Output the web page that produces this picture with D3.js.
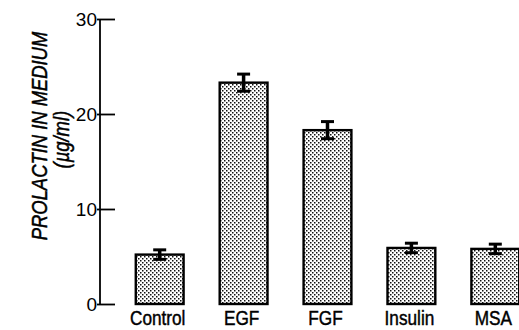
<!DOCTYPE html>
<meta charset="utf-8">
<title>Prolactin in medium</title>
<style>
  body { margin: 0; background: #fff; }
  text { font-family: "Liberation Sans", Arial, sans-serif; fill: #000; }
  .heavy { stroke: #000; stroke-width: 0.45px; }
</style>
<body>
<script src="https://d3js.org/d3.v7.min.js"></script>
<script>

// values
var categories = ["Control", "EGF", "FGF", "Insulin", "MSA"];
var means = [5.2, 23.3, 18.3, 5.9, 5.8];
var errors = [0.5, 0.9, 0.9, 0.5, 0.5];
var yTicks = [0, 10, 20, 30];

var width = 519,
    height = 330;

var svg = d3.select("body").append("svg")
  .attr("width", width)
  .attr("height", height);

// stipple fill for the bars
var pat = svg.append("defs").append("pattern")
  .attr("id", "dots")
  .attr("patternUnits", "userSpaceOnUse")
  .attr("width", 4)
  .attr("height", 4);
pat.append("rect").attr("width", 4).attr("height", 4).attr("fill", "#fff");
pat.append("rect").attr("x", 0).attr("y", 0).attr("width", 1.5).attr("height", 1.5).attr("fill", "#111");
pat.append("rect").attr("x", 2).attr("y", 2).attr("width", 1.5).attr("height", 1.5).attr("fill", "#111");

var y = d3.scaleLinear()
  .domain([0, 30])
  .range([304, 19]);

var x = d3.scaleBand()
  .domain(categories)
  .range([119, 536])
  .paddingInner(0.43)
  .paddingOuter(0.2);

// y axis: line plus ticks pointing into the plot
var yAxis = d3.axisRight(y)
  .tickValues(yTicks)
  .tickSize(15)
  .tickFormat("");

var gy = svg.append("g")
  .attr("transform", "translate(100,0)")
  .call(yAxis);
gy.select(".domain")
  .attr("d", "M0," + y(30) + "V" + y(0))
  .attr("stroke-width", 1.8);
gy.selectAll(".tick line").attr("stroke-width", 1.8).attr("x1", -3);

svg.selectAll(".ylab")
  .data(yTicks)
  .enter().append("text")
  .attr("class", "ylab")
  .attr("x", 97)
  .attr("y", d => y(d))
  .attr("dy", "0.36em")
  .attr("text-anchor", "end")
  .style("font-size", "19px")
  .text(d => d);

// y axis title
var title = svg.append("text")
  .attr("class", "heavy")
  .attr("transform", "translate(47,136) rotate(-90) scale(0.92,1.1)")
  .attr("text-anchor", "middle")
  .style("font-size", "20px")
  .style("font-style", "italic");
title.append("tspan").attr("x", 0).attr("y", 0).text("PROLACTIN IN MEDIUM");
title.append("tspan").attr("x", -4).attr("y", 20).text("(\u00b5g/ml)");

// bars
svg.selectAll(".bar")
  .data(categories)
  .enter().append("rect")
  .attr("class", "bar")
  .attr("x", d => x(d))
  .attr("width", x.bandwidth())
  .attr("y", (d, i) => y(means[i]))
  .attr("height", (d, i) => y(0) - y(means[i]))
  .attr("fill", "url(#dots)")
  .attr("stroke", "#000")
  .attr("stroke-width", 2.4);

// error bars
var eb = svg.selectAll(".err")
  .data(categories)
  .enter().append("g")
  .attr("class", "err")
  .attr("transform", d => "translate(" + (x(d) + x.bandwidth() / 2) + ",0)");

eb.append("line")
  .attr("y1", (d, i) => y(means[i] + errors[i]))
  .attr("y2", (d, i) => y(means[i] - errors[i]))
  .attr("stroke", "#000")
  .attr("stroke-width", 3.5);
eb.append("line")
  .attr("x1", -6.5).attr("x2", 6.5)
  .attr("y1", (d, i) => y(means[i] + errors[i]))
  .attr("y2", (d, i) => y(means[i] + errors[i]))
  .attr("stroke", "#000")
  .attr("stroke-width", 3);
eb.append("line")
  .attr("x1", -6.5).attr("x2", 6.5)
  .attr("y1", (d, i) => y(means[i] - errors[i]))
  .attr("y2", (d, i) => y(means[i] - errors[i]))
  .attr("stroke", "#000")
  .attr("stroke-width", 3);

// category labels, tall and condensed like the original lettering
svg.selectAll(".xlab")
  .data(categories)
  .enter().append("text")
  .attr("class", "xlab heavy")
  .attr("transform", d => "translate(" + (x(d) + x.bandwidth() / 2 - 2) + ",325) scale(0.82,1)")
  .attr("text-anchor", "middle")
  .style("font-size", "21px")
  .text(d => d);

</script>
</body>
</html>
